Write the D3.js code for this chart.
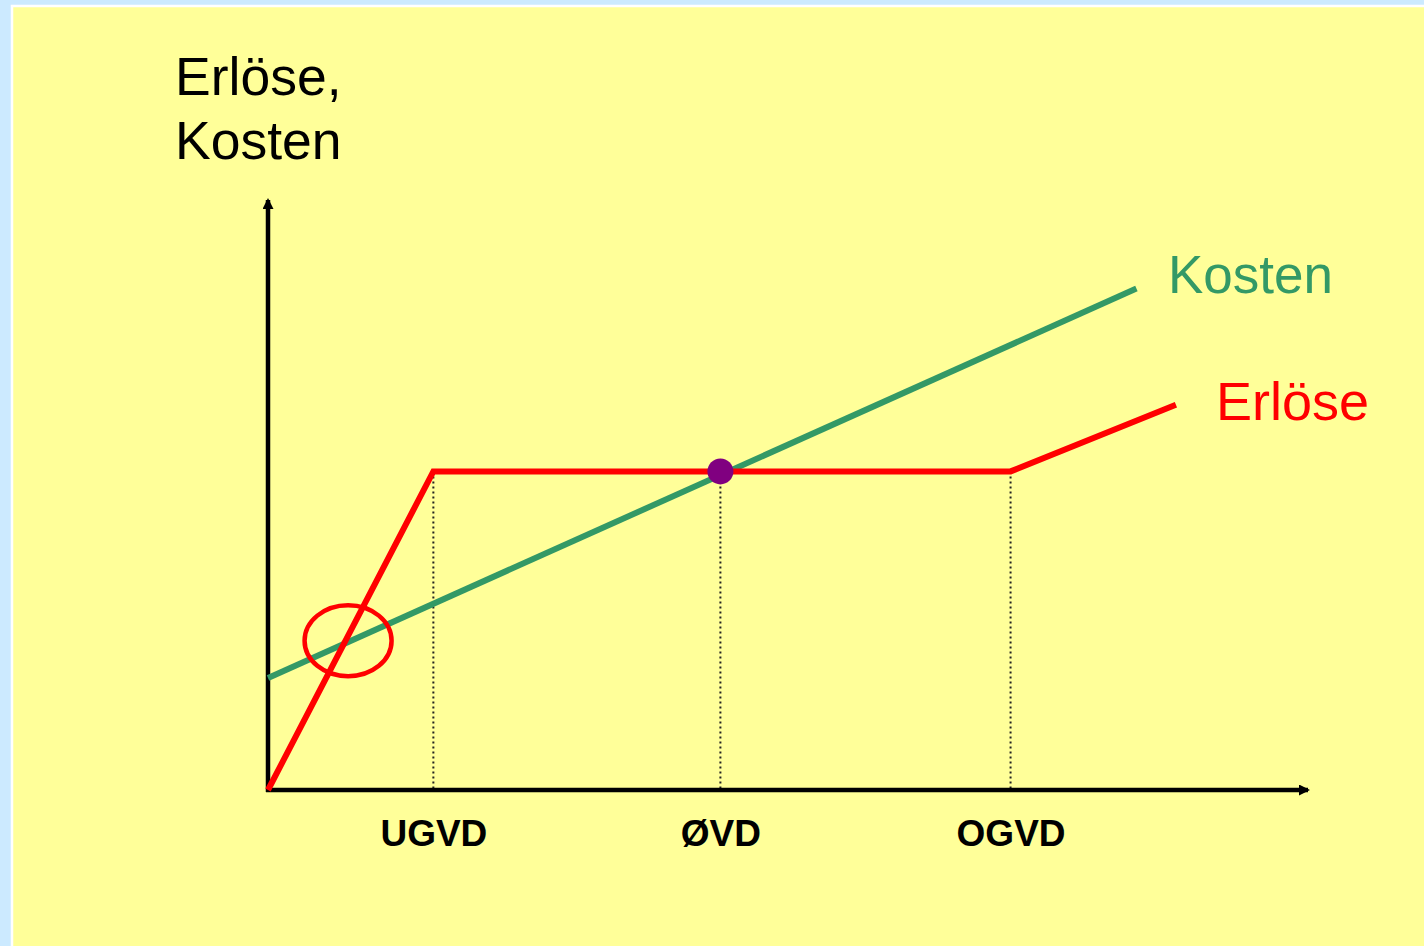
<!DOCTYPE html>
<html>
<head>
<meta charset="utf-8">
<script src="https://cdn.jsdelivr.net/npm/d3@7"></script>
<style>
  html, body { margin: 0; padding: 0; background: #cceaff; }
  svg { display: block; }
  text { font-family: "Liberation Sans", Arial, Helvetica, sans-serif; }
</style>
</head>
<body>
<svg id="chart" width="1424" height="946"></svg>
<script>
// Quantity markers on the horizontal axis (Vertriebsdichte)
const xTicks = [15.9, 43.5, 71.4];
const xTickLabels = ["UGVD", "ØVD", "OGVD"];

// Cost line (linear) and revenue line (piecewise)
const kostenX = [0, 83.5];
const kostenY = [19, 85];
const erloeseX = [0, 15.9, 71.4, 87.3];
const erloeseY = [0, 54, 54, 65.3];

// Optimum point and the highlighted break-even region
const optimumX = [43.5];
const optimumY = [54];
const highlightX = [7.7];
const highlightY = [25.3];

const titleLines = ["Erlöse,", "Kosten"];
const seriesLabels = ["Kosten", "Erlöse"];

const W = 1424, H = 946;
const svg = d3.select("#chart");

// Panel background with thin white frame
svg.append("rect").attr("x", 12).attr("y", 6).attr("width", W).attr("height", H)
  .attr("fill", "#ffff99").attr("stroke", "#ffffff").attr("stroke-width", 2.5);

const x = d3.scaleLinear().domain([0, 100]).range([268, 1308]);
const y = d3.scaleLinear().domain([0, 100]).range([790, 200]);

const defs = svg.append("defs");
defs.append("marker").attr("id", "arrow")
  .attr("viewBox", "0 0 11 11").attr("refX", 9).attr("refY", 5.5)
  .attr("markerWidth", 11).attr("markerHeight", 11)
  .attr("markerUnits", "userSpaceOnUse").attr("orient", "auto")
  .append("path").attr("d", "M0,0L11,5.5L0,11Z").attr("fill", "#000");

// Dotted drop lines from the revenue curve to the axis
const plateau = erloeseY[1];
svg.append("g").selectAll("line").data(xTicks).join("line")
  .attr("x1", d => x(d)).attr("x2", d => x(d))
  .attr("y1", y(plateau)).attr("y2", y(0))
  .attr("stroke", "#222").attr("stroke-width", 2).attr("stroke-dasharray", "2,3");

// Axes
const xAxis = d3.axisBottom(x).tickValues(xTicks)
  .tickFormat((d, i) => xTickLabels[i]).tickSize(0).tickPadding(30);
const gx = svg.append("g").attr("transform", `translate(0,${y(0)})`).call(xAxis);
gx.select(".domain").attr("d", `M${x(0) - 2},0H${x(100)}`)
  .attr("stroke", "#000").attr("stroke-width", 4.5).attr("marker-end", "url(#arrow)");
gx.selectAll(".tick text").attr("font-size", 37).attr("font-weight", "bold")
  .attr("fill", "#000").attr("font-family", "'Liberation Sans', Arial, sans-serif");

const yAxis = d3.axisLeft(y).tickValues([]).tickSize(0);
const gy = svg.append("g").attr("transform", `translate(${x(0)},0)`).call(yAxis);
gy.select(".domain").attr("d", `M0,${y(0) + 2}V${y(100)}`)
  .attr("stroke", "#000").attr("stroke-width", 4.5).attr("marker-end", "url(#arrow)");

const line = d3.line().x(d => x(d[0])).y(d => y(d[1]));

// Cost line
svg.append("path").datum(kostenX.map((v, i) => [v, kostenY[i]]))
  .attr("d", line).attr("fill", "none").attr("stroke", "#339966").attr("stroke-width", 6);

// Revenue line
svg.append("path").datum(erloeseX.map((v, i) => [v, erloeseY[i]]))
  .attr("d", line).attr("fill", "none").attr("stroke", "#ff0000").attr("stroke-width", 6)
  .attr("stroke-linejoin", "miter");

// Highlight ring around the lower intersection
svg.append("g").selectAll("ellipse").data(highlightX).join("ellipse")
  .attr("cx", d => x(d)).attr("cy", (d, i) => y(highlightY[i]))
  .attr("rx", 43.5).attr("ry", 35.5)
  .attr("fill", "none").attr("stroke", "#ff0000").attr("stroke-width", 4.5);

// Optimum point
svg.append("g").selectAll("circle").data(optimumX).join("circle")
  .attr("cx", d => x(d)).attr("cy", (d, i) => y(optimumY[i]))
  .attr("r", 13).attr("fill", "#800080");

// Y axis title
svg.append("text").attr("x", 175).attr("y", 95).attr("font-size", 53.5).attr("fill", "#000")
  .selectAll("tspan").data(titleLines).join("tspan")
  .attr("x", 175).attr("dy", (d, i) => i === 0 ? 0 : 64).text(d => d);

// Series labels
svg.append("text").attr("x", 1168).attr("y", 293).attr("font-size", 53)
  .attr("fill", "#339966").text(seriesLabels[0]);
svg.append("text").attr("x", 1216).attr("y", 420).attr("font-size", 54)
  .attr("fill", "#ff0000").text(seriesLabels[1]);
</script>
</body>
</html>
